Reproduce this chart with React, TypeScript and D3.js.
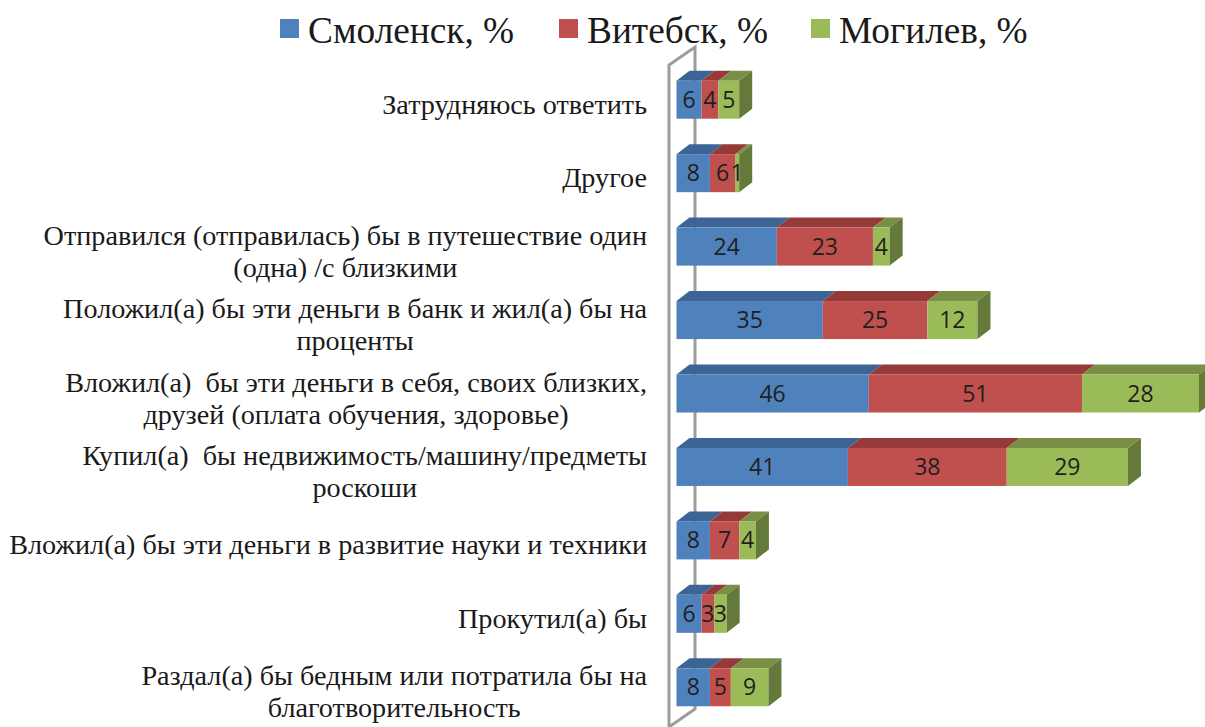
import React, { useEffect, useRef } from 'react';
import * as d3 from 'd3';

const categories = [
    ['Затрудняюсь ответить'],
    ['Другое'],
    ['Отправился (отправилась) бы в путешествие один', '(одна) /с близкими'],
    ['Положил(а) бы эти деньги в банк и жил(а) бы на', 'проценты'],
    ['Вложил(а)  бы эти деньги в себя, своих близких,', 'друзей (оплата обучения, здоровье)'],
    ['Купил(а)  бы недвижимость/машину/предметы', 'роскоши'],
    ['Вложил(а) бы эти деньги в развитие науки и техники'],
    ['Прокутил(а) бы'],
    ['Раздал(а) бы бедным или потратила бы на', 'благотворительность'],
];
const smolensk = [6, 8, 24, 35, 46, 41, 8, 6, 8];
const vitebsk = [4, 6, 23, 25, 51, 38, 7, 3, 5];
const mogilev = [5, 1, 4, 12, 28, 29, 4, 3, 9];

const seriesNames = ['Смоленск, %', 'Витебск, %', 'Могилев, %'];
const seriesValues = [smolensk, vitebsk, mogilev];
const colors = ['#4F81BD', '#C0504D', '#9BBB59'];
const topColors = ['#3C6494', '#953A38', '#788F45'];
const sideColor = '#657A3A';

const serif = '"Liberation Serif", serif';
const sans = '"Open Sans", sans-serif';

export default function App() {
    const ref = useRef<SVGSVGElement>(null);

    useEffect(() => {
        const width = 1205;
        const height = 727;
        const depthX = 13;
        const depthY = 10;
        const barHeight = 38;

        const svg = d3.select(ref.current);
        svg.selectAll('*').remove();

        const x = d3.scaleLinear().domain([0, 100]).range([676.5, 1094.5]);
        const y = d3.scaleBand<number>()
            .domain(d3.range(categories.length))
            .range([63, 724])
            .paddingInner(0)
            .paddingOuter(0);

        // side wall of the 3d plot
        svg.append('path')
            .attr('d', 'M669,727 L669,65 L695,47 L695,709 L669,727')
            .attr('fill', 'none')
            .attr('stroke', '#9C9C9C')
            .attr('stroke-width', 3);

        categories.forEach((_, i) => {
            const top = y(i)! + y.bandwidth() / 2 - barHeight / 2;
            let start = 0;
            const row = svg.append('g');
            seriesValues.forEach((values, s) => {
                const v = values[i];
                const x0 = x(start);
                const x1 = x(start + v);
                row.append('path')
                    .attr('d', `M${x0},${top} L${x0 + depthX},${top - depthY} L${x1 + depthX},${top - depthY} L${x1},${top} Z`)
                    .attr('fill', topColors[s]);
                row.append('rect')
                    .attr('x', x0)
                    .attr('y', top)
                    .attr('width', x1 - x0)
                    .attr('height', barHeight)
                    .attr('fill', colors[s]);
                if (s === seriesValues.length - 1) {
                    row.append('path')
                        .attr('d', `M${x1},${top} L${x1 + depthX},${top - depthY} L${x1 + depthX},${top + barHeight - depthY} L${x1},${top + barHeight} Z`)
                        .attr('fill', sideColor);
                }
                start += v;
            });
            // labels on top of all segments of the row
            start = 0;
            seriesValues.forEach((values) => {
                const v = values[i];
                row.append('text')
                    .attr('x', x(start + v / 2))
                    .attr('y', top + barHeight / 2 + 8)
                    .attr('text-anchor', 'middle')
                    .style('font-family', sans)
                    .style('font-size', '23px')
                    .style('fill', '#1f1f1f')
                    .text(v);
                start += v;
            });
        });

        // category labels: block is right aligned, lines centred inside it
        const rightEdge = 647;
        categories.forEach((lines, i) => {
            const mid = y(i)! + y.bandwidth() / 2 + 6;
            const text = svg.append('text')
                .style('font-family', serif)
                .style('font-size', '28.2px')
                .style('fill', '#1a1a1a')
                .attr('text-anchor', 'middle');
            const spans = lines.map((line, k) => text.append('tspan')
                .attr('y', mid + 8 + (k - (lines.length - 1) / 2) * 32)
                .style('white-space', 'pre')
                .text(line));
            const maxW = d3.max(spans, (s) => (s.node() as SVGTSpanElement).getComputedTextLength()) as number;
            spans.forEach((s) => s.attr('x', rightEdge - maxW / 2));
        });

        // legend
        const legendSquares = [280, 559, 811];
        seriesNames.forEach((name, i) => {
            svg.append('rect')
                .attr('x', legendSquares[i])
                .attr('y', 19)
                .attr('width', 19)
                .attr('height', 19)
                .attr('fill', colors[i]);
            svg.append('text')
                .attr('x', legendSquares[i] + 28)
                .attr('y', 42.5)
                .style('font-family', serif)
                .style('font-size', '37.3px')
                .style('fill', '#1a1a1a')
                .text(name);
        });

        svg.attr('width', width).attr('height', height);
    }, []);

    return (
        <svg
            ref={ref}
            width={1205}
            height={727}
            style={{ position: 'absolute', left: 0, top: 0, background: '#fff' }}
        />
    );
}
